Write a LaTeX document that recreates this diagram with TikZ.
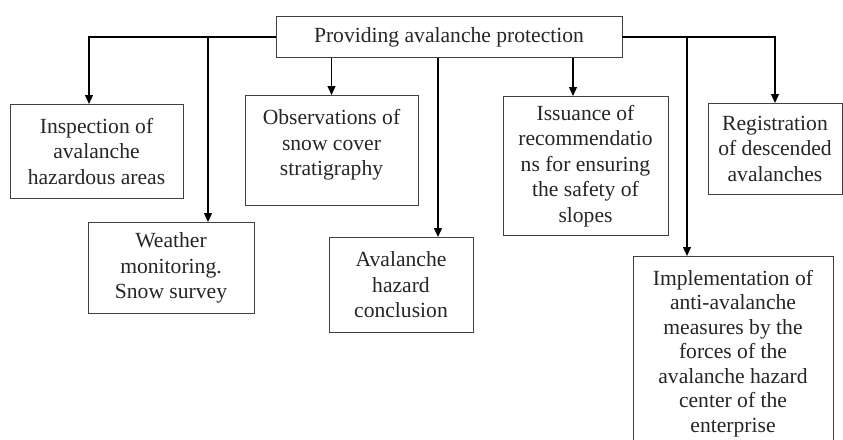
\documentclass[tikz,border=0pt]{standalone}
\usepackage{fontspec}
\setmainfont{Liberation Serif}
\usetikzlibrary{arrows.meta}
\begin{document}
\begin{tikzpicture}[x=1pt,y=-1pt,
  box/.style={draw=black!75, line width=0.9pt, rectangle, anchor=north, align=center,
    inner sep=0pt, font=\fontsize{21.6}{25.5}\selectfont, text=black!85},
  arr/.style={draw=black, line width=1.3pt, -{Triangle[length=9pt,width=8pt]}}]
\useasboundingbox (0,0) rectangle (843,439);
\fill[white] (0,0) rectangle (843,439);
\node[box, minimum width=346pt, minimum height=41pt] (root) at (449,16) {Providing avalanche protection};
\node[box, minimum width=173pt, minimum height=94pt] (insp) at (96.5,104) {Inspection of\\avalanche\\hazardous areas};
\node[box, minimum width=166pt, minimum height=91pt] (weather) at (171,222) {Weather\\monitoring.\\Snow survey};
\node[box, minimum width=173pt, minimum height=110pt] (obs) at (331.5,95) {Observations of\\snow cover\\stratigraphy\\[-18pt]\strut};
\node[box, minimum width=144pt, minimum height=95pt] (aval) at (401,237) {Avalanche\\hazard\\conclusion};
\node[box, minimum width=165pt, minimum height=139pt] (issu) at (585.5,96) {Issuance of\\recommendatio\\ns for ensuring\\the safety of\\slopes};
\node[box, minimum width=200pt, minimum height=194pt, font=\fontsize{21.6}{24.5}\selectfont] (impl) at (733,256) {Implementation of\\anti-avalanche\\measures by the\\forces of the\\avalanche hazard\\center of the\\enterprise};
\node[box, minimum width=134pt, minimum height=91pt] (regi) at (775,103) {Registration\\of descended\\avalanches};
\coordinate (pinsp) at ([xshift=-7.5pt]insp.north);
\coordinate (pweather) at ([xshift=37pt]weather.north);
\coordinate (paval) at ([xshift=37pt]aval.north);
\coordinate (pissu) at ([xshift=-12.5pt]issu.north);
\coordinate (pimpl) at ([xshift=-46pt]impl.north);
\draw[arr] (root.west) -| (pinsp);
\draw[arr] (root.west) -| (pweather);
\draw[arr] (root.south -| obs.north) -- (obs.north);
\draw[arr] (root.south -| paval) -- (paval);
\draw[arr] (root.south -| pissu) -- (pissu);
\draw[arr] (root.east) -| (pimpl);
\draw[arr] (root.east) -| (regi.north);
\end{tikzpicture}
\end{document}
